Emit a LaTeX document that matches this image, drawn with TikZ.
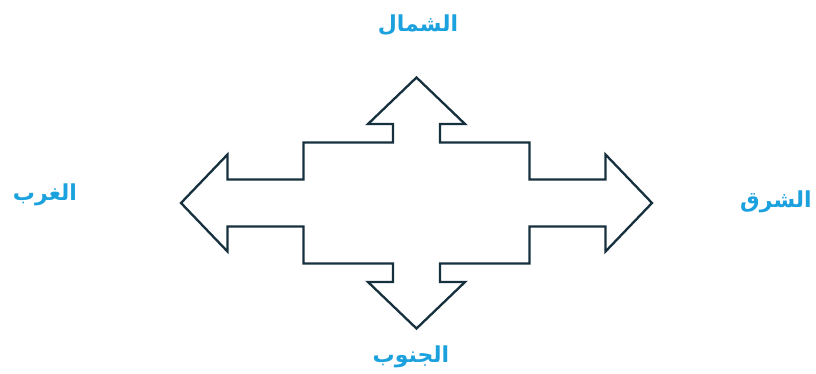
\documentclass[tikz,border=0pt]{standalone}
\usepackage{fontspec}
\TeXXeTstate=1
\newfontfamily\arabicfont[Script=Arabic]{DejaVu Sans}
\definecolor{outline}{HTML}{16303E}
\definecolor{labelblue}{HTML}{1BA1DE}
\tikzset{
  arrowshape/.style={draw=outline, line width=2.3pt, line join=miter, fill=none},
  dirlabel/.style={text=labelblue, font=\arabicfont\bfseries\fontsize{22}{26}\selectfont, inner sep=0pt}
}
\begin{document}
\begin{tikzpicture}[x=1pt,y=-1pt]
\useasboundingbox (0,0) rectangle (816,374);
\coordinate (c) at (416.5,202.5);
\draw[arrowshape] (c)
  ++(0,-125) coordinate (ntip)
  -- ++(48.5,46.5) -- ++(-25,0) -- ++(0,18.5) -- ++(89.5,0) -- ++(0,37)
  -- ++(76,0) -- ++(0,-25) -- ++(46.5,48.5) coordinate (etip)
  -- ++(-46.5,48.5) -- ++(0,-25) -- ++(-76,0) -- ++(0,37) -- ++(-89.5,0)
  -- ++(0,18.5) -- ++(25,0) -- ++(-48.5,46.5) coordinate (stip)
  -- ++(-48.5,-46.5) -- ++(25,0) -- ++(0,-18.5) -- ++(-89.5,0) -- ++(0,-37)
  -- ++(-76,0) -- ++(0,25) -- ++(-46.5,-48.5) coordinate (wtip)
  -- ++(46.5,-48.5) -- ++(0,25) -- ++(76,0) -- ++(0,-37) -- ++(89.5,0)
  -- ++(0,-18.5) -- ++(-25,0) -- cycle;
\node[dirlabel] (north) at (418,25) {\beginR الشمال\endR};
\node[dirlabel] (west) at (45,195) {\beginR الغرب\endR};
\node[dirlabel] (east) at (776,202) {\beginR الشرق\endR};
\node[dirlabel] (south) at (411,357) {\beginR الجنوب\endR};
\end{tikzpicture}
\end{document}
